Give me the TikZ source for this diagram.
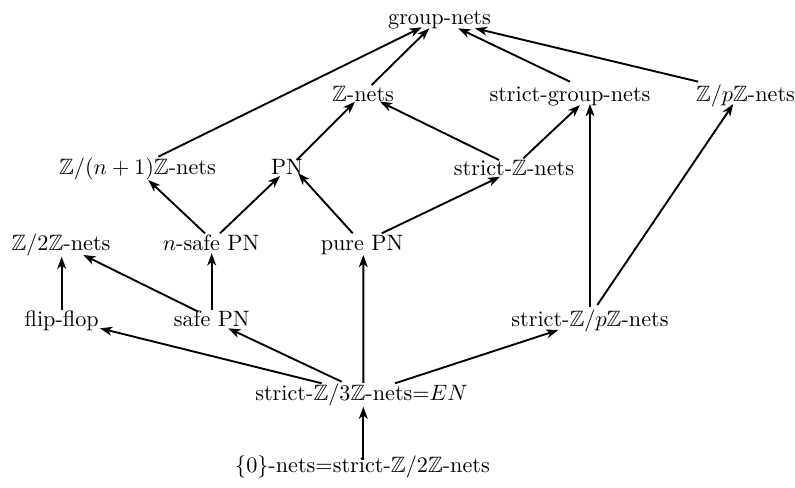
\documentclass[tikz,border=0pt]{standalone}
\usepackage{amssymb}
\usetikzlibrary{arrows.meta}
\begin{document}
\begin{tikzpicture}[x=0.45pt,y=-0.45pt,
  lbl/.style={anchor=base,inner sep=0pt,outer sep=0pt,font=\fontsize{10}{12}\selectfont},
  edge/.style={line width=0.85pt,-{Stealth[length=5.5pt,width=4pt,inset=1.6pt]}}]
\useasboundingbox (0,0) rectangle (795,487);
\node[lbl] (g)    at (439.5,24)  {group-nets};
\node[lbl] (z)    at (363,101)   {$\mathbb{Z}$-nets};
\node[lbl] (sg)   at (570,101)   {strict-group-nets};
\node[lbl] (zp)   at (745.5,101) {$\mathbb{Z}/p\mathbb{Z}$-nets};
\node[lbl] (zn1)  at (137.5,174) {$\mathbb{Z}/(n+1)\mathbb{Z}$-nets};
\node[lbl] (pn)   at (287,174)   {PN};
\node[lbl] (sz)   at (514,175)   {strict-$\mathbb{Z}$-nets};
\node[lbl] (z2)   at (61,250)    {$\mathbb{Z}/2\mathbb{Z}$-nets};
\node[lbl] (nsafe) at (211,250)  {$n$-safe PN};
\node[lbl] (pure) at (362,250)   {pure PN};
\node[lbl] (ff)   at (61.7,326)  {flip-flop};
\node[lbl] (safe) at (211.7,326) {safe PN};
\node[lbl] (szp)  at (590,326)   {strict-$\mathbb{Z}/p\mathbb{Z}$-nets};
\node[lbl] (s3)   at (361.5,400) {strict-$\mathbb{Z}/3\mathbb{Z}$-nets=$EN$};
\node[lbl] (zero) at (362.5,472) {$\{0\}$-nets=strict-$\mathbb{Z}/2\mathbb{Z}$-nets};

\draw[edge] ([shift={(20.8,-17.3)}]zn1.base) -- ([shift={(-17.8,3.3)}]g.base);
\draw[edge] ([shift={(8.7,-16)}]z.base) -- ([shift={(-10.2,4.3)}]g.base);
\draw[edge] ([shift={(0,-19.3)}]sg.base) -- ([shift={(18.8,4.3)}]g.base);
\draw[edge] ([shift={(-47.2,-19.3)}]zp.base) -- ([shift={(35.5,4.3)}]g.base);
\draw[edge] ([shift={(9.7,-14)}]pn.base) -- ([shift={(-8,0.7)}]z.base);
\draw[edge] ([shift={(-15,-15)}]sz.base) -- ([shift={(17,0.7)}]z.base);
\draw[edge] ([shift={(9.3,-16.7)}]sz.base) -- ([shift={(10,4)}]sg.base);
\draw[edge] ([shift={(-6,-16.7)}]nsafe.base) -- ([shift={(10.8,6)}]zn1.base);
\draw[edge] ([shift={(9,-16.7)}]nsafe.base) -- ([shift={(-7,2)}]pn.base);
\draw[edge] ([shift={(-9.3,-16.7)}]pure.base) -- ([shift={(11,-1)}]pn.base);
\draw[edge] ([shift={(19.7,-16.7)}]pure.base) -- ([shift={(-14,1.7)}]sz.base);
\draw[edge] ([shift={(0,-16)}]ff.base) -- ([shift={(0.7,6.7)}]z2.base);
\draw[edge] ([shift={(-13.4,-14.3)}]safe.base) -- ([shift={(22.3,5)}]z2.base);
\draw[edge] ([shift={(0,-16)}]safe.base) -- ([shift={(0.7,3.3)}]nsafe.base);
\draw[edge] ([shift={(-39.8,-16.7)}]s3.base) -- ([shift={(38.3,2.3)}]ff.base);
\draw[edge] ([shift={(-19.8,-18.3)}]s3.base) -- ([shift={(16.6,2.3)}]safe.base);
\draw[edge] ([shift={(1.8,-17)}]s3.base) -- ([shift={(1.3,5)}]pure.base);
\draw[edge] ([shift={(33.5,-16.7)}]s3.base) -- ([shift={(-31.7,4)}]szp.base);
\draw[edge] ([shift={(0,-19.3)}]szp.base) -- ([shift={(20,3)}]sg.base);
\draw[edge] ([shift={(7.3,-21)}]szp.base) -- ([shift={(-12.2,3)}]zp.base);
\draw[edge] ([shift={(0.8,-12)}]zero.base) -- ([shift={(1.8,6.7)}]s3.base);
\end{tikzpicture}
\end{document}
